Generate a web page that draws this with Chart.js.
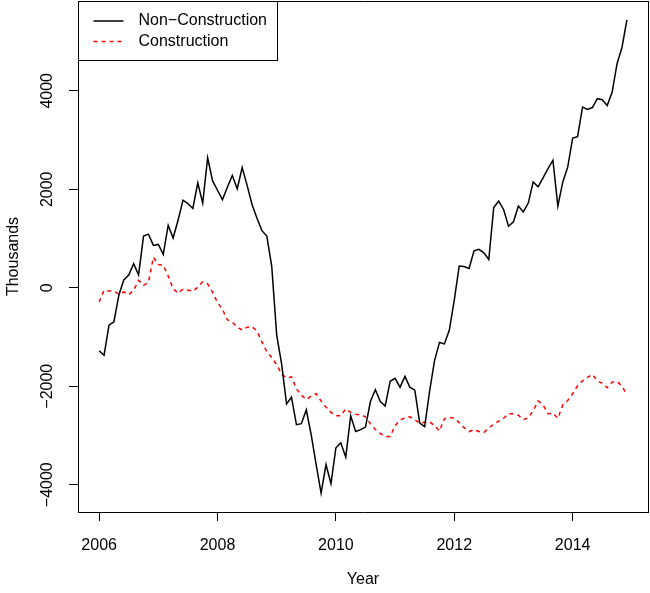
<!doctype html>
<html>

<head>
	<title>Construction vs Non-Construction</title>
	<script src="https://cdn.jsdelivr.net/npm/chart.js@4/dist/chart.umd.min.js"></script>
	<style>
	html, body {
		margin: 0;
		padding: 0;
		overflow: hidden;
		background: #fff;
	}
	canvas {
		display: block;
	}
	</style>
</head>

<body>
	<canvas id="chart" width="650" height="593"></canvas>
	<script>
		// monthly values, Jan 2006 .. Dec 2014
		var startYear = 2006;
		var nonConstruction = [
			-1280, -1370, -760, -690, -150, 160, 260, 490, 260, 1050, 1090, 860,
			880, 680, 1270, 1010, 1370, 1780, 1710, 1610, 2130, 1720, 2640, 2170,
			1980, 1790, 2040, 2280, 2010, 2440, 2080, 1690, 1410, 1160, 1050, 430,
			-960, -1550, -2360, -2220, -2780, -2760, -2480, -2990, -3590, -4170, -3590, -3980,
			-3250, -3150, -3440, -2600, -2920, -2880, -2830, -2310, -2070, -2310, -2400, -1900,
			-1840, -2020, -1800, -2020, -2080, -2750, -2820, -2100, -1480, -1110, -1140, -860,
			-250, 440, 430, 390, 750, 780, 710, 575, 1630, 1760, 1590, 1250,
			1340, 1660, 1540, 1720, 2150, 2050, 2230, 2420, 2590, 1660, 2150, 2450,
			3040, 3070, 3670, 3620, 3660, 3840, 3820, 3700, 3970, 4550, 4880, 5440
		];
		var construction = [
			-290, -50, -65, -70, -130, -85, -140, -50, 150, 50, 110, 620,
			470, 460, 240, -20, -110, -30, -50, -70, 10, 120, 80, -90,
			-300, -440, -650, -700, -800, -860, -800, -790, -880, -1100, -1300, -1420,
			-1560, -1760, -1830, -1810, -2050, -2180, -2270, -2200, -2150, -2300, -2420, -2530,
			-2600, -2600, -2460, -2530, -2570, -2580, -2620, -2760, -2880, -2960, -3020, -3020,
			-2800, -2690, -2640, -2620, -2680, -2750, -2730, -2720, -2800, -2910, -2660, -2630,
			-2650, -2740, -2840, -2920, -2880, -2920, -2940, -2850, -2770, -2710, -2650, -2560,
			-2560, -2590, -2680, -2640, -2500, -2300, -2380, -2560, -2550, -2650, -2380, -2290,
			-2150, -1990, -1890, -1820, -1760, -1890, -1940, -2030, -1920, -1900, -2000, -2170
		];
		var xTicks = [2006, 2008, 2010, 2012, 2014];
		var yTicks = [-4000, -2000, 0, 2000, 4000];
		var seriesNames = ['Non\u2212Construction', 'Construction'];

		var fontFamily = '"Liberation Sans", Arial, sans-serif';
		var xMin = 2005.643, xMax = 2015.273;
		var yMin = -4554, yMax = 5824;

		function toPoints(values) {
			return values.map(function(v, i) {
				return {x: startYear + i / 12, y: v};
			});
		}

		// legend and rotated y labels, R style
		var rStyle = {
			id: 'rStyle',
			afterDatasetsDraw: function(chart) {
				var ctx = chart.ctx;
				var area = chart.chartArea;
				var yScale = chart.scales.y;
				var l = Math.round(area.left) + 0.5;
				var t = Math.round(area.top) + 0.5;

				ctx.save();
				ctx.setLineDash([]);
				ctx.strokeStyle = '#000';
				ctx.lineWidth = 1;
				ctx.fillStyle = '#fff';
				ctx.fillRect(l, t, 199, 59);
				ctx.strokeRect(l, t, 199, 59);
				ctx.font = '16px ' + fontFamily;
				ctx.textBaseline = 'middle';
				ctx.textAlign = 'left';
				var rows = [
					{y: t + 19.5, color: '#000', dash: []},
					{y: t + 40, color: '#ff0000', dash: [4, 4]}
				];
				rows.forEach(function(row, i) {
					ctx.beginPath();
					ctx.setLineDash(row.dash);
					ctx.strokeStyle = row.color;
					ctx.lineWidth = 1.5;
					ctx.moveTo(l + 15, row.y);
					ctx.lineTo(l + 45, row.y);
					ctx.stroke();
					ctx.fillStyle = '#000';
					ctx.fillText(seriesNames[i], l + 60, row.y);
				});
				ctx.setLineDash([]);

				ctx.fillStyle = '#000';
				ctx.textAlign = 'center';
				yTicks.forEach(function(v) {
					var py = yScale.getPixelForValue(v);
					ctx.save();
					ctx.translate(48, py);
					ctx.rotate(-Math.PI / 2);
					ctx.fillText(String(v).replace('-', '\u2212'), 0, 0);
					ctx.restore();
				});
				ctx.restore();
			}
		};

		// plain axis used only for its border line (top and right of the box)
		function frameAxis(position, min, max) {
			return {
				type: 'linear',
				position: position,
				min: min,
				max: max,
				grid: {display: false, drawTicks: false},
				ticks: {display: false},
				border: {display: true, color: '#000', width: 1},
				afterFit: function(scale) {
					if (scale.isHorizontal()) scale.height = 0; else scale.width = 0;
				}
			};
		}

		window.onload = function() {
			var ctx = document.getElementById('chart').getContext('2d');
			new Chart(ctx, {
				type: 'line',
				data: {
					datasets: [{
						label: seriesNames[0],
						data: toPoints(nonConstruction),
						borderColor: '#000',
						borderWidth: 1.5,
						pointRadius: 0,
						tension: 0
					}, {
						label: seriesNames[1],
						data: toPoints(construction),
						borderColor: '#ff0000',
						borderWidth: 1.5,
						borderDash: [4, 4],
						pointRadius: 0,
						tension: 0
					}]
				},
				options: {
					responsive: false,
					animation: false,
					devicePixelRatio: 1,
					layout: {padding: {top: 1, right: 2, left: 0, bottom: 0}},
					plugins: {
						legend: {display: false},
						tooltip: {enabled: false}
					},
					scales: {
						x: {
							type: 'linear',
							min: xMin,
							max: xMax,
							afterBuildTicks: function(scale) {
								scale.ticks = xTicks.map(function(v) { return {value: v}; });
							},
							afterFit: function(scale) { scale.height = 81; },
							grid: {drawOnChartArea: false, drawTicks: true, tickLength: 9, color: '#000'},
							border: {display: true, color: '#000'},
							ticks: {
								color: '#000',
								padding: 15,
								maxRotation: 0,
								font: {family: fontFamily, size: 16},
								callback: function(v) { return String(v); }
							},
							title: {
								display: true,
								text: 'Year',
								color: '#000',
								padding: {top: 0, bottom: 3.5},
								font: {family: fontFamily, size: 16}
							}
						},
						y: {
							min: yMin,
							max: yMax,
							afterBuildTicks: function(scale) {
								scale.ticks = yTicks.map(function(v) { return {value: v}; });
							},
							afterFit: function(scale) { scale.width = 78; },
							grid: {drawOnChartArea: false, drawTicks: true, tickLength: 9, color: '#000'},
							border: {display: true, color: '#000'},
							ticks: {display: false},
							title: {
								display: true,
								text: 'Thousands',
								color: '#000',
								padding: {top: 4, bottom: 0},
								font: {family: fontFamily, size: 16}
							}
						},
						xTop: frameAxis('top', xMin, xMax),
						yRight: frameAxis('right', yMin, yMax)
					}
				},
				plugins: [rStyle]
			});
		};
	</script>
</body>

</html>
